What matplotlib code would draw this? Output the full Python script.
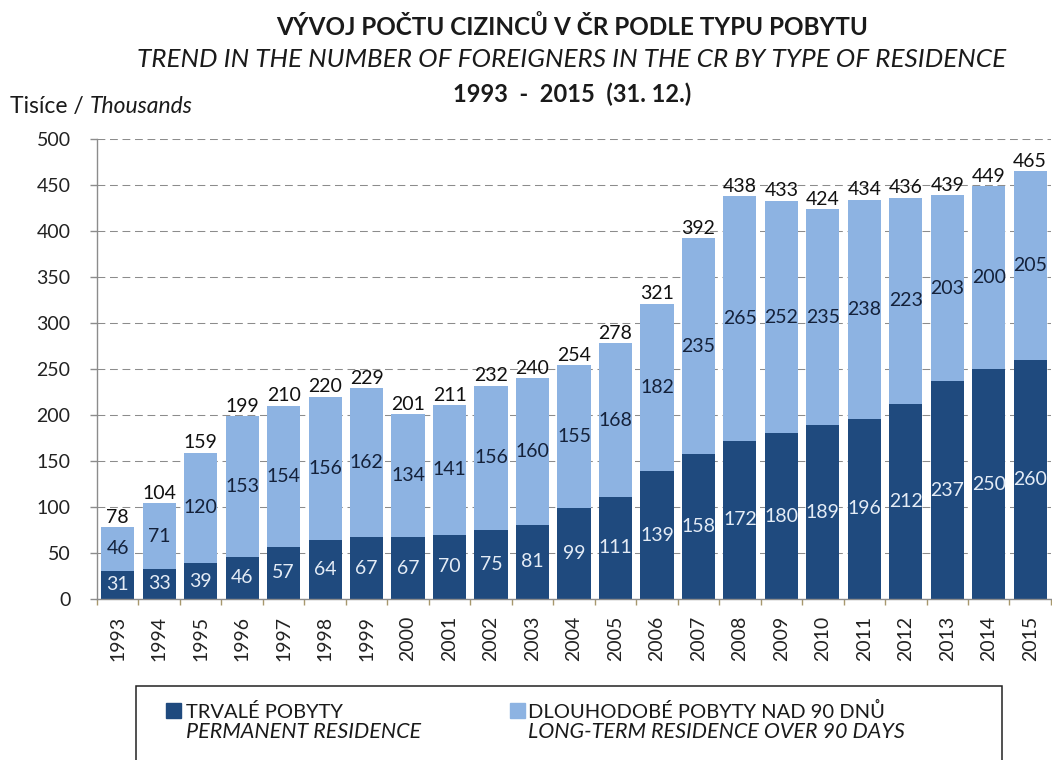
import numpy as np
import matplotlib.pyplot as plt
from matplotlib.patches import Rectangle

years = [str(y) for y in range(1993, 2016)]
permanent = [31, 33, 39, 46, 57, 64, 67, 67, 70, 75, 81, 99, 111, 139, 158, 172,
             180, 189, 196, 212, 237, 250, 260]
long_term = [46, 71, 120, 153, 154, 156, 162, 134, 141, 156, 160, 155, 168, 182,
             235, 265, 252, 235, 238, 223, 203, 200, 205]
total = [78, 104, 159, 199, 210, 220, 229, 201, 211, 232, 240, 254, 278, 321,
         392, 438, 433, 424, 434, 436, 439, 449, 465]
y_ticks = list(range(0, 501, 50))

DARK = "#1f4a7e"
LIGHT = "#8db3e2"
FONT = ["Lato", "DejaVu Sans"]

plt.rcParams["font.family"] = FONT
plt.rcParams["text.color"] = "#1a1a1a"

fig = plt.figure(figsize=(10.52, 7.6), dpi=100)
ax = fig.add_axes([0.0922, 0.2118, 0.9068, 0.6053])

x = np.arange(len(years))
perm = np.array(permanent)
tot = np.array(total)
ax.bar(x, perm, width=0.8, color=DARK, zorder=2)
ax.bar(x, tot - perm, bottom=perm, width=0.8, color=LIGHT, zorder=2)

for i in range(len(years)):
    ax.text(x[i], perm[i] / 2, str(permanent[i]), ha="center", va="center",
            fontsize=14, color="#e4ecf6", zorder=3)
    ax.text(x[i], (perm[i] + tot[i]) / 2, str(long_term[i]), ha="center", va="center",
            fontsize=14, color="#14213a", zorder=3)
    ax.annotate(str(total[i]), (x[i], tot[i]), xytext=(0, 1), textcoords="offset points",
                ha="center", va="bottom", fontsize=14, color="#111111", zorder=3)

ax.set_xlim(-0.5, len(years) - 0.5)
ax.set_ylim(0, 500)
ax.set_yticks(y_ticks)
ax.set_xticks(x)
ax.set_xticklabels(years, rotation=90)
ax.set_xticks(np.arange(-0.5, len(years), 1), minor=True)
ax.tick_params(axis="x", which="major", length=0, pad=12, labelsize=14, labelcolor="#222222")
ax.tick_params(axis="x", which="minor", length=4, width=1, color="#a8986c")
ax.tick_params(axis="y", length=5, width=1, color="#8c8c8c", pad=14,
               labelsize=14, labelcolor="#222222")

ax.yaxis.grid(True, linestyle=(0, (7.5, 4.5)), color="#8c8c8c", linewidth=0.75)
ax.set_axisbelow(True)
for s in ["top", "right"]:
    ax.spines[s].set_visible(False)
for s in ["left", "bottom"]:
    ax.spines[s].set_color("#8c8c8c")
    ax.spines[s].set_linewidth(1)

# titles
fig.text(0.5437, 0.9539, "VÝVOJ POČTU CIZINCŮ V ČR PODLE TYPU POBYTU", ha="center",
         va="baseline", fontsize=17.5, fontweight="bold")
fig.text(0.5437, 0.9118, "TREND IN THE NUMBER OF FOREIGNERS IN THE CR BY TYPE OF RESIDENCE",
         ha="center", va="baseline", fontsize=18.8, style="italic")
fig.text(0.5437, 0.8658, "1993  -  2015  (31. 12.)", ha="center", va="baseline",
         fontsize=17, fontweight="bold")

t1 = fig.text(0.0095, 0.8513, "Tisíce / ", ha="left", va="baseline", fontsize=16.5)
ax.annotate("Thousands", xy=(1, 0), xycoords=t1, ha="left", va="bottom",
            fontsize=16.5, style="italic", annotation_clip=False)

# legend box
fig.patches.append(Rectangle((0.1293, -0.05), 0.8232, 0.1474, transform=fig.transFigure,
                             fill=False, edgecolor="#222222", linewidth=1.1))
fig.patches.append(Rectangle((0.1578, 0.0553), 0.0143, 0.0197, transform=fig.transFigure,
                             color=DARK))
fig.patches.append(Rectangle((0.4848, 0.0553), 0.0143, 0.0197, transform=fig.transFigure,
                             color=LIGHT))
fig.text(0.1768, 0.0553, "TRVALÉ POBYTY", fontsize=14.5, va="baseline")
fig.text(0.1768, 0.0289, "PERMANENT RESIDENCE", fontsize=15.5, style="italic", va="baseline")
fig.text(0.5019, 0.0553, "DLOUHODOBÉ POBYTY NAD 90 DNŮ", fontsize=14.5, va="baseline")
fig.text(0.5019, 0.0289, "LONG-TERM RESIDENCE OVER 90 DAYS", fontsize=15.5, style="italic",
         va="baseline")

fig.savefig("out.png", dpi=100)
